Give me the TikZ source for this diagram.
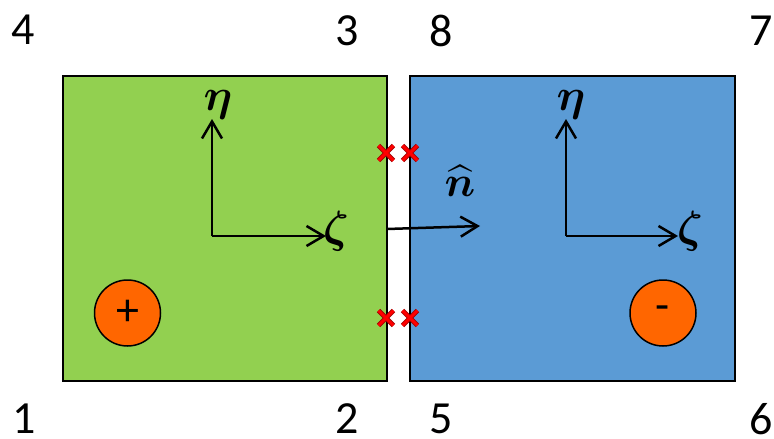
\documentclass[tikz,border=0pt]{standalone}
\usepackage{amsmath}
\usepackage{bm}
\usepackage{fontspec}
\setmainfont{Carlito}
\usetikzlibrary{arrows.meta,shapes.misc}
\definecolor{gr}{HTML}{92D050}
\definecolor{bl}{HTML}{5B9BD5}
\definecolor{org}{HTML}{FF6600}
\definecolor{xred}{HTML}{FF0000}
\definecolor{xdark}{HTML}{A00000}
\begin{document}
\begin{tikzpicture}[x=1pt,y=-1pt,
  box/.style={draw=black,line width=1.8pt,inner sep=0pt,outer sep=0pt,rectangle},
  num/.style={inner sep=0pt,font=\fontsize{46}{50}\selectfont},
  greek/.style={inner sep=0pt,scale=4.5},
  axis/.style={line width=2.5pt,-{Straight Barb[length=17pt,width=20pt,line width=2.5pt]}},
  charge/.style={circle,draw=black,line width=1.5pt,fill=org,minimum size=66pt,inner sep=0pt,font=\fontsize{46}{50}\selectfont},
  xmark/.style={cross out,draw=xdark,double=xred,double distance=3pt,line width=0.9pt,minimum size=14pt,inner sep=0pt}]
\useasboundingbox (0,0) rectangle (774,439);
% boxes
\node[box,fill=gr,minimum width=324pt,minimum height=305pt] (L) at (225,228.5) {};
\node[box,fill=bl,minimum width=325pt,minimum height=305pt] (R) at (572.5,228.5) {};
% corner numbers
\node[num] (n4) at (23.5,30) {4};
\node[num] (n3) at (347,31) {3};
\node[num] (n8) at (441,31) {8};
\node[num] (n7) at (761,31) {7};
\node[num] (n1) at (24,419) {1};
\node[num] (n2) at (347,419) {2};
\node[num] (n5) at (441,419) {5};
\node[num] (n6) at (761,419) {6};
% local axes, left
\coordinate (oL) at (212,236);
\coordinate (yL) at (212,119);
\coordinate (xL) at (326,236);
\draw[axis] (oL) -- (yL);
\draw[axis] (oL) -- (xL);
\node[greek] (etaL) at (218,105) {$\bm{\eta}$};
\node[greek] (zetaL) at (336,231) {$\bm{\zeta}$};
% local axes, right
\coordinate (oR) at (566,236);
\coordinate (yR) at (566,119);
\coordinate (xR) at (678,236);
\draw[axis] (oR) -- (yR);
\draw[axis] (oR) -- (xR);
\node[greek] (etaR) at (571,105) {$\bm{\eta}$};
\node[greek] (zetaR) at (690,231) {$\bm{\zeta}$};
% normal
\coordinate (nS) at (387,229);
\coordinate (nE) at (480,226);
\draw[axis] (nS) -- (nE);
\node[inner sep=0pt,scale=4.3] (nhat) at (460,181) {$\widehat{\bm{n}}$};
% crosses
\node[xmark] (c1) at (386,153) {};
\node[xmark] (c2) at (410,153) {};
\node[xmark] (c3) at (386,318) {};
\node[xmark] (c4) at (410,318) {};
% charges
\node[charge] (plus) at (127.5,313) {+};
\node[charge] (minus) at (663,313) {-};
\end{tikzpicture}
\end{document}
